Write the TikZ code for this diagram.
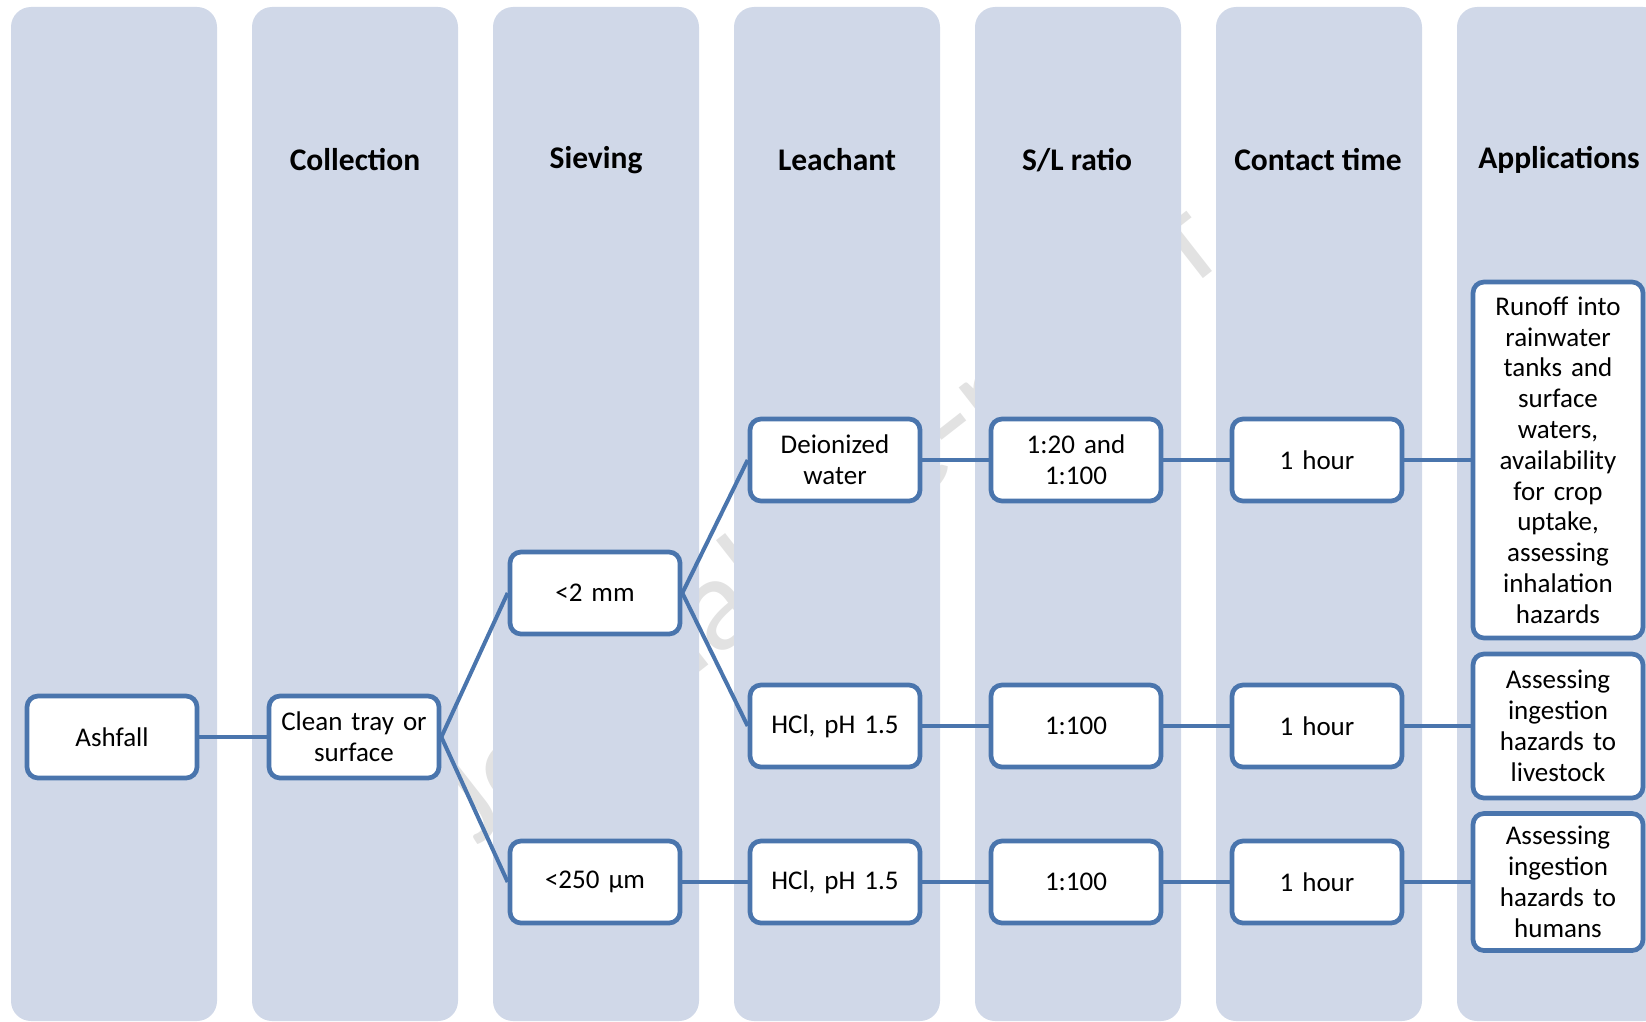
\documentclass[tikz,border=0pt]{standalone}
\usepackage{fontspec}
\setmainfont{Carlito}
\definecolor{colfill}{RGB}{208,216,232}
\definecolor{boxblue}{RGB}{74,117,173}
\definecolor{wmark}{RGB}{226,226,226}
\frenchspacing
\begin{document}
\begin{tikzpicture}[x=1pt,y=-1pt,
  colbg/.style={fill=colfill, draw=none, rounded corners=20pt},
  hdr/.style={font=\fontsize{31.5}{36}\selectfont\bfseries, anchor=center, inner sep=0pt},
  box/.style={draw=boxblue, line width=4.7pt, fill=white, rounded corners=11pt,
    minimum width=170pt, minimum height=82pt, text width=165pt, align=center,
    font=\fontsize{27}{30.8}\selectfont, inner sep=0pt},
  link/.style={draw=boxblue, line width=4pt}]
\useasboundingbox (0,0) rectangle (1646,1022);
\clip (0,0) rectangle (1646,1022);
% watermark (mostly hidden behind the columns)
\node[wmark, rotate=38, font=\fontsize{135}{140}\selectfont] (wm) at (830,525) {Journal Pre-proof};
% columns
\foreach \i in {0,...,6} {
  \fill[colbg] ({11+241*\i},7) rectangle ({217+241*\i},1021);
}
% headers
\node[hdr] (h2) at (355,160) {Collection};
\node[hdr] (h3) at (596,160) {Sieving};
\node[hdr] (h4) at (837,160) {Leachant};
\node[hdr] (h5) at (1077,160) {S/L ratio};
\node[hdr] (h6) at (1318,160) {Contact time};
\node[hdr] (h7) at (1559,160) {Applications};
% boxes
\node[box] (ash) at (112,737) {Ashfall};
\node[box] (clean) at (354,737) {Clean tray or\\surface};
\node[box] (mm2) at (595,593) {<2 mm};
\node[box] (um) at (595,882) {<250 µm};
\node[box] (di) at (835,460) {Deionized\\water};
\node[box] (hcla) at (835,726) {HCl, pH 1.5};
\node[box] (hclb) at (835,882) {HCl, pH 1.5};
\node[box] (ra) at (1076,460) {1:20 and\\1:100};
\node[box] (rb) at (1076,726) {1:100};
\node[box] (rc) at (1076,882) {1:100};
\node[box] (ta) at (1317,460) {1 hour};
\node[box] (tb) at (1317,726) {1 hour};
\node[box] (tc) at (1317,882) {1 hour};
\node[box, minimum height=356pt] (aa) at (1558,460) {Runoff into\\rainwater\\tanks and\\surface\\waters,\\availability\\for crop\\uptake,\\assessing\\inhalation\\hazards};
\node[box, minimum height=144pt] (ab) at (1558,726) {Assessing\\ingestion\\hazards to\\livestock};
\node[box, minimum height=137pt] (ac) at (1558,882) {Assessing\\ingestion\\hazards to\\humans};
% connectors
\draw[link] (ash.east) -- (clean.west);
\draw[link] (clean.east) -- (mm2.west);
\draw[link] (clean.east) -- (um.west);
\draw[link] (mm2.east) -- (di.west);
\draw[link] (mm2.east) -- (hcla.west);
\draw[link] (um.east) -- (hclb.west);
\draw[link] (di.east) -- (ra.west);
\draw[link] (hcla.east) -- (rb.west);
\draw[link] (hclb.east) -- (rc.west);
\draw[link] (ra.east) -- (ta.west);
\draw[link] (rb.east) -- (tb.west);
\draw[link] (rc.east) -- (tc.west);
\draw[link] (ta.east) -- (aa.west);
\draw[link] (tb.east) -- (ab.west);
\draw[link] (tc.east) -- (ac.west);
\end{tikzpicture}
\end{document}
